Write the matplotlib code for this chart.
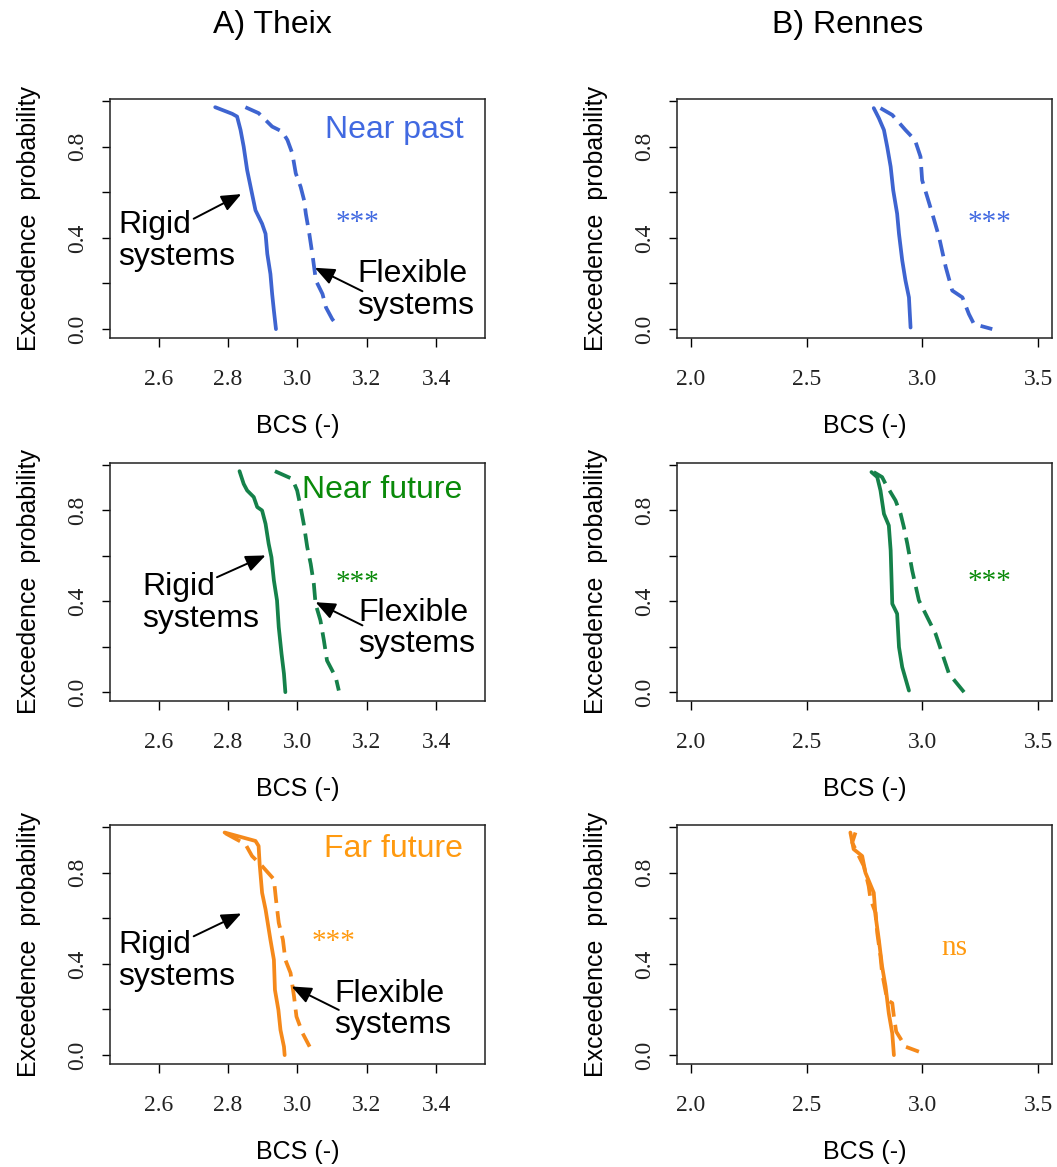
"""
Exceedence probability of BCS, rigid vs flexible systems, Theix and Rennes.
"""

import matplotlib
matplotlib.use("Agg")
import matplotlib.pyplot as plt

SANS  = "Liberation Sans"
SERIF = "Liberation Serif"

BLUE_LN,   BLUE_TX   = "#3e64d0", "#4169e1"
GREEN_LN,  GREEN_TX  = "#15814a", "#0a8a0a"
ORANGE_LN, ORANGE_TX = "#f5891a", "#ff9a10"

# ── Data (BCS, exceedence probability) ───────────────────────────────────────
# A) Theix, near past
theix_past_rigid_x = [2.763, 2.812, 2.826, 2.836, 2.845, 2.855, 2.869, 2.879, 2.898, 2.908, 2.913, 2.922, 2.927, 2.932, 2.938]
theix_past_rigid_y = [0.973, 0.944, 0.932, 0.873, 0.800, 0.697, 0.594, 0.521, 0.462, 0.418, 0.330, 0.242, 0.154, 0.081, 0.000]
theix_past_flex_x  = [2.850, 2.888, 2.927, 2.956, 2.971, 2.985, 2.995, 3.009, 3.019, 3.024, 3.034, 3.044, 3.053, 3.072, 3.082, 3.100, 3.105]
theix_past_flex_y  = [0.973, 0.947, 0.888, 0.866, 0.829, 0.771, 0.683, 0.624, 0.565, 0.506, 0.418, 0.316, 0.213, 0.154, 0.095, 0.044, 0.034]

# A) Theix, near future
theix_near_rigid_x = [2.833, 2.845, 2.855, 2.874, 2.884, 2.898, 2.908, 2.917, 2.925, 2.932, 2.941, 2.946, 2.954, 2.961, 2.965]
theix_near_rigid_y = [0.973, 0.917, 0.888, 0.859, 0.815, 0.800, 0.741, 0.653, 0.594, 0.492, 0.404, 0.286, 0.169, 0.081, 0.000]
theix_near_flex_x  = [2.935, 2.985, 2.999, 3.009, 3.018, 3.028, 3.038, 3.047, 3.052, 3.066, 3.076, 3.085, 3.110, 3.119]
theix_near_flex_y  = [0.973, 0.939, 0.888, 0.815, 0.741, 0.639, 0.565, 0.477, 0.389, 0.316, 0.228, 0.139, 0.066, 0.007]

# A) Theix, far future
theix_far_rigid_x = [2.790, 2.879, 2.888, 2.891, 2.898, 2.908, 2.922, 2.932, 2.935, 2.945, 2.951, 2.961, 2.963]
theix_far_rigid_y = [0.976, 0.939, 0.917, 0.837, 0.712, 0.639, 0.506, 0.418, 0.286, 0.198, 0.110, 0.037, 0.000]
theix_far_flex_x  = [2.792, 2.850, 2.869, 2.898, 2.932, 2.938, 2.946, 2.958, 2.965, 2.980, 2.990, 2.997, 3.015, 3.035]
theix_far_flex_y  = [0.973, 0.925, 0.873, 0.829, 0.771, 0.683, 0.580, 0.506, 0.418, 0.360, 0.257, 0.169, 0.095, 0.037]

# B) Rennes, near past
rennes_past_rigid_x = [2.790, 2.812, 2.834, 2.848, 2.863, 2.874, 2.891, 2.899, 2.913, 2.927, 2.942, 2.949]
rennes_past_rigid_y = [0.969, 0.925, 0.873, 0.800, 0.712, 0.609, 0.506, 0.418, 0.301, 0.213, 0.139, 0.007]
rennes_past_flex_x  = [2.819, 2.870, 2.927, 2.968, 2.992, 2.999, 3.021, 3.043, 3.072, 3.101, 3.129, 3.173, 3.201, 3.223, 3.302]
rennes_past_flex_y  = [0.969, 0.939, 0.873, 0.829, 0.756, 0.653, 0.580, 0.506, 0.404, 0.272, 0.169, 0.139, 0.066, 0.022, 0.000]

# B) Rennes, near future
rennes_near_rigid_x = [2.780, 2.805, 2.819, 2.834, 2.855, 2.863, 2.870, 2.891, 2.899, 2.913, 2.942]
rennes_near_rigid_y = [0.969, 0.947, 0.888, 0.785, 0.734, 0.624, 0.389, 0.345, 0.198, 0.110, 0.007]
rennes_near_flex_x  = [2.790, 2.826, 2.841, 2.884, 2.906, 2.920, 2.935, 2.956, 2.985, 3.028, 3.057, 3.086, 3.115, 3.180]
rennes_near_flex_y  = [0.969, 0.947, 0.917, 0.844, 0.785, 0.727, 0.653, 0.536, 0.404, 0.316, 0.257, 0.169, 0.081, 0.000]

# B) Rennes, far future
rennes_far_rigid_x = [2.689, 2.703, 2.740, 2.754, 2.790, 2.798, 2.812, 2.826, 2.841, 2.855, 2.870, 2.877]
rennes_far_rigid_y = [0.976, 0.903, 0.873, 0.800, 0.712, 0.609, 0.506, 0.389, 0.301, 0.183, 0.095, 0.000]
rennes_far_flex_x  = [2.711, 2.697, 2.718, 2.747, 2.768, 2.776, 2.798, 2.805, 2.819, 2.826, 2.848, 2.870, 2.877, 2.887, 2.927, 2.985]
rennes_far_flex_y  = [0.976, 0.932, 0.888, 0.829, 0.741, 0.683, 0.624, 0.536, 0.433, 0.360, 0.242, 0.228, 0.169, 0.103, 0.037, 0.015]

PERIODS     = ["Near past", "Near future", "Far future"]
SIGNIF_A    = ["***", "***", "***"]
SIGNIF_B    = ["***", "***", "ns"]
LINE_COLS   = [BLUE_LN, GREEN_LN, ORANGE_LN]
TEXT_COLS   = [BLUE_TX, GREEN_TX, ORANGE_TX]
YTICKS      = [0.0, 0.2, 0.4, 0.6, 0.8, 1.0]
YTICKLABELS = ["0.0", "", "0.4", "", "0.8", ""]
XTICKS_A    = [2.6, 2.8, 3.0, 3.2, 3.4]
XTICKS_B    = [2.0, 2.5, 3.0, 3.5]

curves_a = [
    (theix_past_rigid_x, theix_past_rigid_y, theix_past_flex_x, theix_past_flex_y),
    (theix_near_rigid_x, theix_near_rigid_y, theix_near_flex_x, theix_near_flex_y),
    (theix_far_rigid_x,  theix_far_rigid_y,  theix_far_flex_x,  theix_far_flex_y),
]
curves_b = [
    (rennes_past_rigid_x, rennes_past_rigid_y, rennes_past_flex_x, rennes_past_flex_y),
    (rennes_near_rigid_x, rennes_near_rigid_y, rennes_near_flex_x, rennes_near_flex_y),
    (rennes_far_rigid_x,  rennes_far_rigid_y,  rennes_far_flex_x,  rennes_far_flex_y),
]

# annotation placement (Theix column): period label, stars, rigid text/arrow, flexible text/arrow
label_pos  = [(3.278, 0.837), (3.245, 0.856), (3.277, 0.870)]
star_pos_a = [(3.172, 0.465), (3.172, 0.480), (3.103, 0.498)]
star_pos_b = [(3.288, 0.465), (3.288, 0.483), (3.139, 0.470)]
rigid_txt  = [(2.483, 0.385), (2.552, 0.392), (2.483, 0.414)]
rigid_arr  = [((2.701, 0.484), (2.838, 0.592)),
              ((2.768, 0.506), (2.908, 0.602)),
              ((2.701, 0.521), (2.838, 0.621))]
flex_txt   = [(3.173, 0.170), (3.175, 0.280), (3.105, 0.200)]
flex_arr   = [((3.187, 0.166), (3.050, 0.269)),
              ((3.187, 0.294), (3.052, 0.396)),
              ((3.119, 0.198), (2.983, 0.301))]

W, H = 1057, 1167
fig = plt.figure(figsize=(W / 100, H / 100), dpi=100, facecolor="white")

col_left = [110 / W, 677 / W]
ax_w = 375 / W
rows = [(99, 338), (463, 701), (825, 1064)]


def style_axes(ax, xlim, xticks):
    ax.set_xlim(xlim[0] - 0.04 * (xlim[1] - xlim[0]), xlim[1] + 0.04 * (xlim[1] - xlim[0]))
    ax.set_ylim(-0.039, 1.009)
    ax.set_xticks(xticks)
    ax.set_xticklabels([f"{t:.1f}" for t in xticks], fontfamily=SERIF, fontsize=17, color="#222222")
    ax.set_yticks(YTICKS)
    ax.set_yticklabels(YTICKLABELS, fontfamily=SERIF, fontsize=17, color="#222222",
                       rotation=90, va="center")
    ax.tick_params(axis="x", length=6.5, width=1.0, pad=16)
    ax.tick_params(axis="y", length=5.5, width=1.0, pad=10)
    for sp in ax.spines.values():
        sp.set_linewidth(1.1)
        sp.set_color("#222222")
    ax.set_xlabel("BCS (-)", fontfamily=SANS, fontsize=18, labelpad=17)
    ax.set_ylabel("Exceedence  probability", fontfamily=SANS, fontsize=18, labelpad=19)


def draw_curves(ax, c, color):
    rx, ry, fx, fy = c
    ax.plot(rx, ry, color=color, lw=2.7, solid_capstyle="round", zorder=3)
    ax.plot(fx, fy, color=color, lw=2.7, dashes=(4.5, 2.2), dash_capstyle="butt", zorder=3)


arrow_kw = dict(arrowstyle="-|>,head_length=0.6,head_width=0.25", color="black",
                lw=1.4, mutation_scale=20, shrinkA=0, shrinkB=0)

for r, (top, bot) in enumerate(rows):
    bottom = 1 - bot / H
    height = (bot - top) / H

    # Theix
    ax = fig.add_axes([col_left[0], bottom, ax_w, height])
    style_axes(ax, (2.5, 3.5), XTICKS_A)
    draw_curves(ax, curves_a[r], LINE_COLS[r])
    ax.text(*label_pos[r], PERIODS[r], color=TEXT_COLS[r], fontfamily=SANS, fontsize=23,
            ha="center", va="baseline")
    ax.text(*star_pos_a[r], SIGNIF_A[r], color=TEXT_COLS[r], fontfamily=SERIF, fontsize=21,
            ha="center", va="center")
    ax.text(*rigid_txt[r], "Rigid\nsystems", fontfamily=SANS, fontsize=23, ha="left",
            va="center", linespacing=1.08)
    ax.annotate("", xy=rigid_arr[r][1], xytext=rigid_arr[r][0], arrowprops=arrow_kw)
    ax.text(*flex_txt[r], "Flexible\nsystems", fontfamily=SANS, fontsize=23, ha="left",
            va="center", linespacing=1.08)
    ax.annotate("", xy=flex_arr[r][1], xytext=flex_arr[r][0], arrowprops=arrow_kw)

    # Rennes
    ax = fig.add_axes([col_left[1], bottom, ax_w, height])
    style_axes(ax, (2.0, 3.5), XTICKS_B)
    draw_curves(ax, curves_b[r], LINE_COLS[r])
    ax.text(*star_pos_b[r], SIGNIF_B[r], color=TEXT_COLS[r], fontfamily=SERIF, fontsize=21,
            ha="center", va="center")

fig.text(272.5 / W, 1 - 33 / H, "A) Theix", fontfamily=SANS, fontsize=23, ha="center", va="baseline")
fig.text(848 / W, 1 - 33 / H, "B) Rennes", fontfamily=SANS, fontsize=23, ha="center", va="baseline")

fig.savefig("out.png", dpi=100, facecolor="white")
plt.close(fig)
